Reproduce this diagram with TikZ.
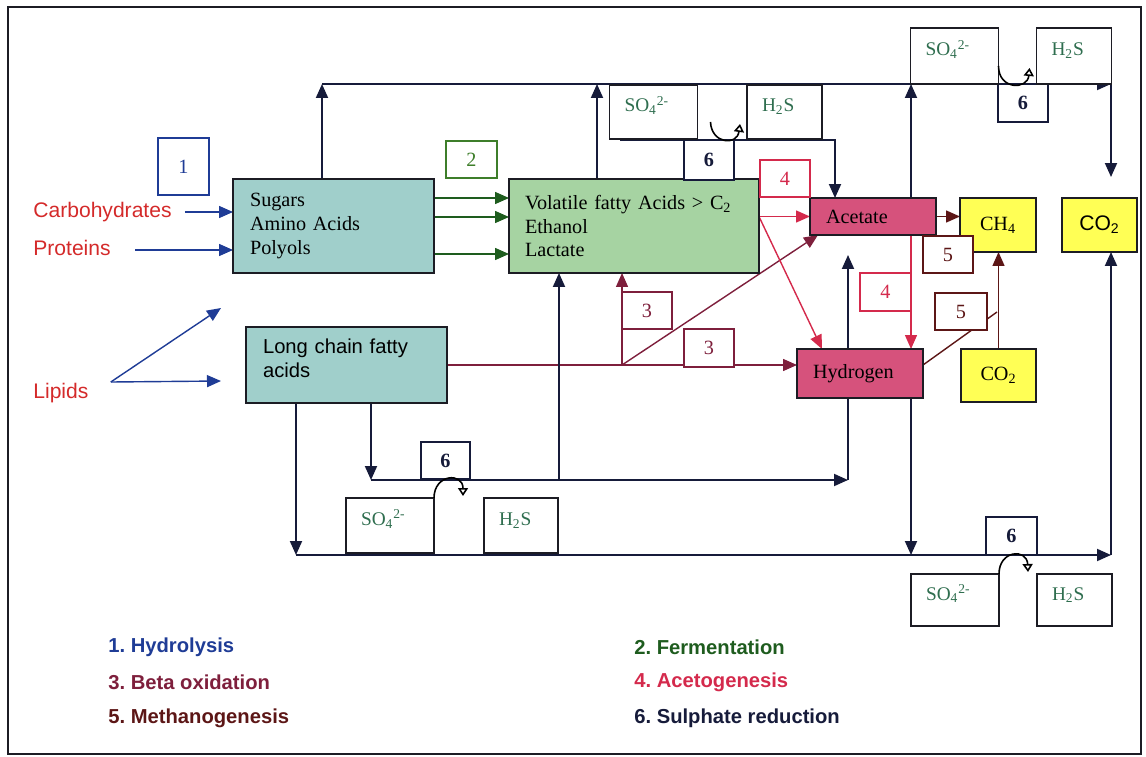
\documentclass[tikz,border=0pt]{standalone}
\usepackage{fontspec}
\setmainfont{Liberation Serif}
\setsansfont{Liberation Sans}
\frenchspacing
\usetikzlibrary{arrows.meta,backgrounds}
\definecolor{adnavy}{HTML}{161B3A}
\definecolor{adedge}{HTML}{1C1C24}
\definecolor{adblue}{HTML}{1F3C96}
\definecolor{adgreenarrow}{HTML}{1E5C1E}
\definecolor{adgreennum}{HTML}{3E7E2A}
\definecolor{adred}{HTML}{D42A4C}
\definecolor{admaroon}{HTML}{7E1F3C}
\definecolor{adbrown}{HTML}{5C1616}
\definecolor{adinput}{HTML}{D42A2A}
\definecolor{adspecies}{HTML}{2F6E4F}
\definecolor{adteal}{HTML}{A0CFCB}
\definecolor{adgreen}{HTML}{A6D3A2}
\definecolor{adpink}{HTML}{D6527C}
\definecolor{adyellow}{HTML}{FFFF55}
\tikzset{
  adblock/.style={draw=adedge, line width=1pt, inner sep=0pt, outer sep=0pt, align=left,
                  font=\fontsize{11.5}{13.6}\selectfont},
  adnum/.style={draw=#1, text=#1, fill=white, line width=0.9pt, inner sep=0pt, outer sep=0pt,
                minimum width=1cm, minimum height=0.74cm, font=\fontsize{11.5}{13}\selectfont},
  adsix/.style={adnum=adnavy, font=\fontsize{11.5}{13}\selectfont\bfseries},
  adgas/.style={draw=adedge, fill=white, line width=1pt, inner sep=0pt, outer sep=0pt,
                inner xsep=0.3cm, align=left, minimum height=1.08cm, text=adspecies,
                text height=0.3cm, text depth=0.3cm, font=\fontsize{11}{13}\selectfont},
  adso/.style={adgas, text width=1.16cm},
  adhs/.style={adgas, text width=0.9cm},
  adarrow/.style={-{Triangle[length=2.8mm,width=2.4mm]}, line width=1.1pt, draw=adnavy},
  adflow/.style={-{Triangle[length=2.8mm,width=2.4mm]}, line width=0.8pt, draw=#1},
  adline/.style={line width=0.8pt, draw=#1},
  adturn/.style={-{Triangle[open,length=1.6mm,width=2mm]}, line width=0.9pt, draw=black},
  adlabel/.style={font=\sffamily\fontsize{12}{14}\selectfont, text=adinput, inner sep=0pt},
  adlegend/.style={font=\sffamily\bfseries\fontsize{11.5}{14}\selectfont, text=#1, inner sep=0pt, anchor=west},
}
\begin{document}
\begin{tikzpicture}[x=0.02cm, y=-0.02cm]
  \useasboundingbox (0,0) rectangle (1146,757);
  \draw[line width=1.2pt, draw=adedge] (8,7) rectangle (1141,754);

  % substrates and products
  \node[adblock, fill=adteal, text width=3.34cm, inner xsep=0.34cm, minimum height=1.88cm] (sugars) at (333.5,226) {Sugars\\Amino Acids\\Polyols};
  \node[adblock, fill=adgreen, text width=4.36cm, inner xsep=0.32cm, minimum height=1.88cm] (vfa) at (634,226) {Volatile fatty Acids > C\textsubscript{2}\\Ethanol\\Lactate};
  \node[adblock, fill=adteal, text width=3.34cm, inner xsep=0.34cm, minimum height=1.52cm, text depth=0.75cm, font=\sffamily\fontsize{11.5}{13.6}\selectfont] (lcfa) at (346.5,365) {Long chain fatty\\acids};
  \node[adblock, fill=adpink, text width=1.88cm, inner xsep=0.32cm, minimum height=0.74cm] (acetate) at (873,216.5) {Acetate};
  \node[adblock, fill=adpink, text width=1.88cm, inner xsep=0.32cm, minimum height=0.98cm] (hydrogen) at (860,373.5) {Hydrogen};
  \node[adblock, fill=adyellow, align=center, minimum width=1.52cm, minimum height=1.08cm] (ch4) at (998,225) {CH\textsubscript{4}};
  \node[adblock, fill=adyellow, align=center, minimum width=1.5cm, minimum height=1.08cm, font=\sffamily\fontsize{12}{14}\selectfont] (co2a) at (1099.5,225) {CO\textsubscript{2}};
  \node[adblock, fill=adyellow, align=center, minimum width=1.5cm, minimum height=1.06cm] (co2b) at (998.5,375.5) {CO\textsubscript{2}};

  % inputs
  \node[adlabel, anchor=west] (carbo) at (33,212) {Carbohydrates};
  \node[adlabel, anchor=west] (prot) at (33,248) {Proteins};
  \node[adlabel, anchor=west] (lipids) at (33,393) {Lipids};

  % process numbers
  \node[adnum=adblue, minimum width=1.02cm, minimum height=1.14cm] (p1) at (183.5,166.5) {1};
  \node[adnum=adgreennum, minimum width=1.02cm] (p2) at (471.5,159.5) {2};
  \node[adnum=admaroon] (p3a) at (647,310.5) {3};
  \node[adnum=admaroon, minimum height=0.76cm] (p3b) at (709,348) {3};
  \node[adnum=adred] (p4a) at (785,178.5) {4};
  \node[adnum=adred, minimum width=1.02cm, minimum height=0.76cm] (p4b) at (885.5,292) {4};
  \node[adnum=adbrown] (p5a) at (948,254.5) {5};
  \node[adnum=adbrown, minimum width=1.04cm] (p5b) at (961,311.5) {5};
  \node[adsix, minimum height=0.8cm] (p6a) at (709,160) {6};
  \node[adsix, minimum height=0.76cm] (p6b) at (1023,103) {6};
  \node[adsix, minimum width=0.98cm] (p6c) at (445.5,460.5) {6};
  \node[adsix, minimum width=1.02cm, minimum height=0.76cm] (p6d) at (1011.5,536) {6};

  % sulphate / sulphide
  \node[adso] (so4a) at (653.5,112) {SO\textsubscript{4}\textsuperscript{2-}};
  \node[adhs] (h2sa) at (784.5,112) {H\textsubscript{2}S};
  \node[adso, minimum height=1.12cm] (so4b) at (954.5,56) {SO\textsubscript{4}\textsuperscript{2-}};
  \node[adhs, minimum height=1.12cm] (h2sb) at (1074,56) {H\textsubscript{2}S};
  \node[adso, minimum height=1.1cm] (so4c) at (390,525.5) {SO\textsubscript{4}\textsuperscript{2-}};
  \node[adhs, minimum height=1.1cm, text width=0.88cm] (h2sc) at (521,525.5) {H\textsubscript{2}S};
  \node[adso, minimum height=1.04cm] (so4d) at (955,600) {SO\textsubscript{4}\textsuperscript{2-}};
  \node[adhs, minimum height=1.04cm] (h2sd) at (1074.5,600) {H\textsubscript{2}S};

  % bend points
  \coordinate (topL) at (322,84);
  \coordinate (topV) at (597,84);
  \coordinate (topA) at (911,84);
  \coordinate (topR) at (1111,84);
  \coordinate (co2in) at (1111,177);
  \coordinate (sixL) at (620,140);
  \coordinate (sixR) at (835,140);
  \coordinate (midL) at (371,480);
  \coordinate (midV) at (559,480);
  \coordinate (midH) at (848,480);
  \coordinate (hUp) at (848,255);
  \coordinate (botL) at (296,555);
  \coordinate (botH) at (911,555);
  \coordinate (botR) at (1111,555);
  \coordinate (betaJ) at (622,365);
  \coordinate (metJ) at (997,312);
  \coordinate (lipsrc) at ([xshift=0.44cm,yshift=0.22cm]lipids.east);
  \coordinate (lipup) at (221,308);
  \coordinate (lipdn) at (221,381);

  \begin{scope}[on background layer]
    % 1
    \draw[adflow=adblue] ([xshift=0.26cm]carbo.east) -- (carbo.east -| sugars.west);
    \draw[adflow=adblue] ([xshift=0.48cm,yshift=-0.04cm]prot.east) -- ([yshift=-0.04cm]prot.east -| sugars.west);
    \draw[adflow=adblue] (lipsrc) -- (lipup);
    \draw[adflow=adblue] (lipsrc) -- (lipdn);
    % 2
    \foreach \dy in {0.56,0.18,-0.56}
      \draw[adflow=adgreenarrow] ([yshift=\dy cm]sugars.east) -- ([yshift=\dy cm]vfa.west);
    % 3
    \draw[adflow=admaroon] (lcfa.east) -- (lcfa.east -| hydrogen.west);
    \draw[adflow=admaroon] (betaJ) -- (betaJ |- vfa.south);
    \draw[adflow=admaroon] (betaJ) -- ([xshift=0.16cm]acetate.south west);
    % 4
    \draw[adflow=adred] (vfa.east |- acetate.west) -- (acetate.west);
    \draw[adflow=adred] (vfa.east |- acetate.west) -- ([xshift=-0.76cm]hydrogen.north);
    \draw[adflow=adred] (topA |- acetate.south) -- (topA |- hydrogen.north);
    % 5
    \draw[adflow=adbrown] (acetate.east) -- (acetate.east -| ch4.west);
    \draw[adflow=adbrown] (co2b.north) -- (co2b.north |- ch4.south);
    \draw[adline=adbrown] ([yshift=0.17cm]hydrogen.east) -- (metJ);
    % 6
    \draw[adarrow] (topL |- sugars.north) -- (topL);
    \draw[adarrow] (topL) -- (topR);
    \draw[adarrow] (topR) -- (co2in);
    \draw[adarrow] (topV |- vfa.north) -- (topV);
    \draw[adarrow] (topA |- acetate.north) -- (topA);
    \draw[adarrow] (sixL) -- (sixR) -- (sixR |- acetate.north);
    \draw[adarrow] (midL |- lcfa.south) -- (midL);
    \draw[adarrow] (midL) -- (midH);
    \draw[adarrow] (midH) -- (hUp);
    \draw[adarrow] (midV) -- (midV |- vfa.south);
    \draw[adarrow] (botL |- lcfa.south) -- (botL);
    \draw[adarrow] (botL) -- (botR);
    \draw[adarrow] (botR) -- (botR |- co2a.south);
    \draw[adarrow] (botH |- hydrogen.south) -- (botH);
  \end{scope}

  % SO4 -> H2S turns
  \draw[adturn] ([xshift=0.26cm,yshift=0.34cm]so4a.south east) .. controls +(1,22) and +(-3,22) .. ([xshift=-0.14cm,yshift=0.3cm]h2sa.south west);
  \draw[adturn] ([yshift=0.36cm]so4b.south east) .. controls +(0,24) and +(-2,22) .. ([xshift=-0.14cm,yshift=0.32cm]h2sb.south west);
  \draw[adturn] (so4c.north east) .. controls +(0,-24) and +(0,-24) .. ([xshift=-0.42cm,yshift=0.04cm]h2sc.north west);
  \draw[adturn] (so4d.north east) .. controls +(0,-24) and +(-1,-24) .. ([xshift=-0.18cm,yshift=0.04cm]h2sd.north west);

  % legend
  \node[adlegend=adblue] (leg1) at (108,647) {1. Hydrolysis};
  \node[adlegend=admaroon] (leg3) at (108,682) {3. Beta oxidation};
  \node[adlegend=adbrown] (leg5) at (108,718) {5. Methanogenesis};
  \node[adlegend=adgreenarrow] (leg2) at (634,647) {2. Fermentation};
  \node[adlegend=adred] (leg4) at (634,682) {4. Acetogenesis};
  \node[adlegend=adnavy] (leg6) at (634,718) {6. Sulphate reduction};
\end{tikzpicture}
\end{document}
